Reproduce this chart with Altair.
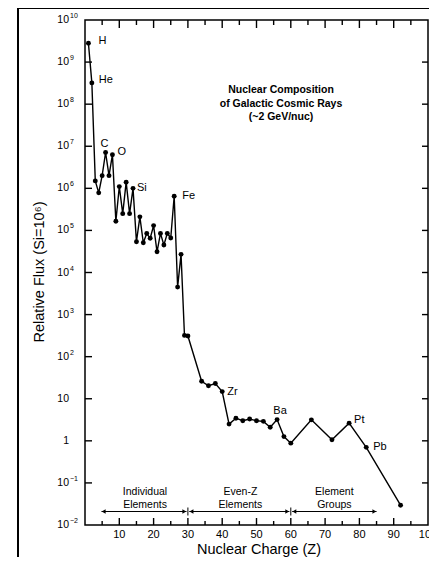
import altair as alt
import pandas as pd

# ---------------- data ----------------
Z = [1, 2, 3, 4, 5, 6, 7, 8, 9, 10, 11, 12, 13, 14, 15, 16, 17, 18, 19, 20,
     21, 22, 23, 24, 25, 26, 27, 28, 29, 30, 34, 36, 38, 40, 42, 44, 46, 48,
     50, 52, 54, 56, 58, 60, 66, 72, 77, 82, 92]
FLUX = [2.8e9, 3.2e8, 1.5e6, 7.8e5, 2.0e6, 7.1e6, 2.0e6, 6.3e6, 1.65e5, 1.1e6,
        2.5e5, 1.4e6, 2.5e5, 1.0e6, 5.4e4, 2.1e5, 5.1e4, 8.5e4, 6.5e4, 1.3e5,
        3.1e4, 8.5e4, 4.5e4, 8.5e4, 6.6e4, 6.5e5, 4.5e3, 2.7e4, 320, 310,
        26, 20.4, 23, 14.8, 2.5, 3.45, 3.0, 3.3, 3.0, 2.9,
        2.1, 3.2, 1.26, 0.88, 3.15, 1.06, 2.63, 0.70, 0.0295]

EL_NAMES = ["H", "He", "C", "O", "Si", "Fe", "Zr", "Ba", "Pt", "Pb"]
EL_Z = [1, 2, 6, 8, 14, 26, 40, 56, 77, 82]

Y_TICKS = [1e-2, 1e-1, 1, 10, 1e2, 1e3, 1e4, 1e5, 1e6, 1e7, 1e8, 1e9, 1e10]
Y_BASE = ["10", "10", "1", "10", "10", "10", "10", "10", "10", "10", "10", "10", "10"]
Y_EXP = ["\u22122", "\u22121", "", "", "2", "3", "4", "5", "6", "7", "8", "9", "10"]

X_LABELS = [10, 20, 30, 40, 50, 60, 70, 80, 90, 100]
X_MAJOR = [10, 20, 30, 40, 50, 60, 70, 80, 90]
X_MINOR = [5, 15, 25, 35, 45, 55, 65, 75, 85, 95]

GROUP_TEXT = ["Individual\nElements", "Even-Z\nElements", "Element\nGroups"]
GROUP_CENTER = [17.5, 45.3, 72.7]
GROUP_START = [4.8, 30.4, 60.4]
GROUP_END = [29.6, 59.6, 85.0]
GROUP_SEP = [30, 60]

TITLE_LINES = "Nuclear Composition\nof Galactic Cosmic Rays\n(~2 GeV/nuc)"
X_TITLE = "Nuclear Charge (Z)"
Y_TITLE = "Relative Flux (Si=10\u2076)"

FONT = "Liberation Sans"
W, H = 343, 505
XMIN, XMAX = 0, 100
LMIN, LMAX = -2, 10
PX_X = W / (XMAX - XMIN)
PX_DEC = H / (LMAX - LMIN)


def xpx(px):
    return XMIN + px / PX_X


def ypx(py):
    return 10 ** (LMAX - py / PX_DEC)


xs = alt.Scale(domain=[XMIN, XMAX], nice=False, zero=False)
ys = alt.Scale(type="log", domain=[10.0 ** LMIN, 10.0 ** LMAX], nice=False)
X = lambda f: alt.X(f, scale=xs, axis=None)
Y = lambda f: alt.Y(f, scale=ys, axis=None)

df = pd.DataFrame({"z": Z, "flux": FLUX})
one = pd.DataFrame({"a": [0]})


def seg_frame(segs):
    rows = []
    for i, (xa, ya, xb, yb) in enumerate(segs):
        rows.append({"seg": i, "k": 0, "px": xa, "py": ya})
        rows.append({"seg": i, "k": 1, "px": xb, "py": yb})
    return pd.DataFrame(rows)


def seg_layer(segs, width, color="black"):
    return alt.Chart(seg_frame(segs)).mark_line(color=color, strokeWidth=width).encode(
        x=X("px:Q"), y=Y("py:Q"), detail="seg:N", order="k:Q")


line = alt.Chart(df).mark_line(color="black", strokeWidth=1.4).encode(
    x=X("z:Q"), y=Y("flux:Q"), order="z:Q")
pts = alt.Chart(df).mark_point(filled=True, color="black", size=24, opacity=1).encode(
    x=X("z:Q"), y=Y("flux:Q"))

offsets = {
    "H": ("left", 10, -2), "He": ("left", 7, -3), "C": ("center", -1, -9),
    "O": ("left", 5, -3), "Si": ("left", 4, 0), "Fe": ("left", 8, 0),
    "Zr": ("left", 5, 0), "Ba": ("center", 3, -9), "Pt": ("left", 5, -3),
    "Pb": ("left", 7, 0),
}
flux_of = dict(zip(Z, FLUX))
lab_df = pd.DataFrame({"el": EL_NAMES, "z": EL_Z, "flux": [flux_of[z] for z in EL_Z]})
label_layers = []
for el in EL_NAMES:
    al, dx, dy = offsets[el]
    label_layers.append(
        alt.Chart(lab_df).transform_filter(alt.datum.el == el).mark_text(
            align=al, baseline="middle", dx=dx, dy=dy, font=FONT, fontSize=11,
            fill="black").encode(x=X("z:Q"), y=Y("flux:Q"), text="el:N"))

yt = pd.DataFrame({"v": Y_TICKS, "b": Y_BASE, "e": Y_EXP})
ybase = alt.Chart(yt).mark_text(align="right", baseline="middle", font=FONT,
                                fontSize=10.5, fill="black").encode(
    x=alt.value(-16), y=Y("v:Q"), text="b:N")
yexp = alt.Chart(yt).mark_text(align="left", baseline="middle", font=FONT,
                               fontSize=7, dy=-4, fill="black").encode(
    x=alt.value(-15), y=Y("v:Q"), text="e:N")

xl = pd.DataFrame({"t": X_LABELS})
xlab = alt.Chart(xl).mark_text(align="center", baseline="middle", font=FONT,
                               fontSize=11, fill="black").encode(
    x=X("t:Q"), y=alt.value(H + 10), text="t:Q")

tick_segs = []
for v in Y_TICKS[1:-1]:
    tick_segs.append((XMIN, v, xpx(7), v))
    tick_segs.append((xpx(W - 6), v, XMAX, v))
for t in X_MAJOR:
    tick_segs.append((t, ypx(H), t, ypx(H - 7)))
    tick_segs.append((t, ypx(0), t, ypx(8)))
for t in X_MINOR:
    tick_segs.append((t, ypx(H), t, ypx(H - 4)))
    tick_segs.append((t, ypx(0), t, ypx(5)))
ticks = seg_layer(tick_segs, 1.4)

frame = seg_layer([(xpx(-67), ypx(-12), xpx(-67), ypx(H + 60)),
                   (xpx(-67), ypx(-12), xpx(W + 20), ypx(-12))], 2)

ARROW_Y = 491.5
arrow_segs = [(s, ypx(ARROW_Y), e, ypx(ARROW_Y)) for s, e in zip(GROUP_START, GROUP_END)]
arrow_segs += [(s, ypx(ARROW_Y - 4), s, ypx(ARROW_Y + 4)) for s in GROUP_SEP]
arrows = seg_layer(arrow_segs, 1)

gdf = pd.DataFrame({"txt": GROUP_TEXT, "c": GROUP_CENTER,
                    "s": [s + xpx(2.2) for s in GROUP_START],
                    "e": [e - xpx(2.2) for e in GROUP_END],
                    "ay": [ypx(ARROW_Y)] * 3})
gtext = alt.Chart(gdf).mark_text(lineBreak="\n", align="center", baseline="middle",
                                 font=FONT, fontSize=10.5, lineHeight=13, fill="black").encode(
    x=X("c:Q"), y=alt.value(472), text="txt:N")
ghead_l = alt.Chart(gdf).mark_point(shape="triangle-left", filled=True, color="black",
                                    size=20, opacity=1).encode(x=X("s:Q"), y=Y("ay:Q"))
ghead_r = alt.Chart(gdf).mark_point(shape="triangle-right", filled=True, color="black",
                                    size=20, opacity=1).encode(x=X("e:Q"), y=Y("ay:Q"))

title_txt = alt.Chart(one).mark_text(
    text=TITLE_LINES, lineBreak="\n", align="center", baseline="top",
    font=FONT, fontSize=10.5, fontWeight="bold", lineHeight=13.5, fill="black"
).encode(x=alt.value(196), y=alt.value(65))

xtitle = alt.Chart(one).mark_text(text=X_TITLE, align="center", baseline="middle",
                                  font=FONT, fontSize=14.5, fill="black").encode(
    x=alt.value(174), y=alt.value(H + 25))
ytitle = alt.Chart(one).mark_text(text=Y_TITLE, align="center", baseline="middle",
                                  angle=270, font=FONT, fontSize=14.5, fill="black").encode(
    x=alt.value(-45), y=alt.value(252))

chart = alt.layer(
    frame, ticks, line, pts, *label_layers,
    arrows, ghead_l, ghead_r, gtext,
    ybase, yexp, xlab, title_txt, xtitle, ytitle,
).properties(
    width=W, height=H,
    padding={"left": 77, "top": 12, "right": 1, "bottom": 32},
    autosize=alt.AutoSizeParams(type="none"),
    background="white",
).configure_view(stroke="black", strokeWidth=1.5)

chart.save("out.html", embed_options={"renderer": "svg", "actions": False})
